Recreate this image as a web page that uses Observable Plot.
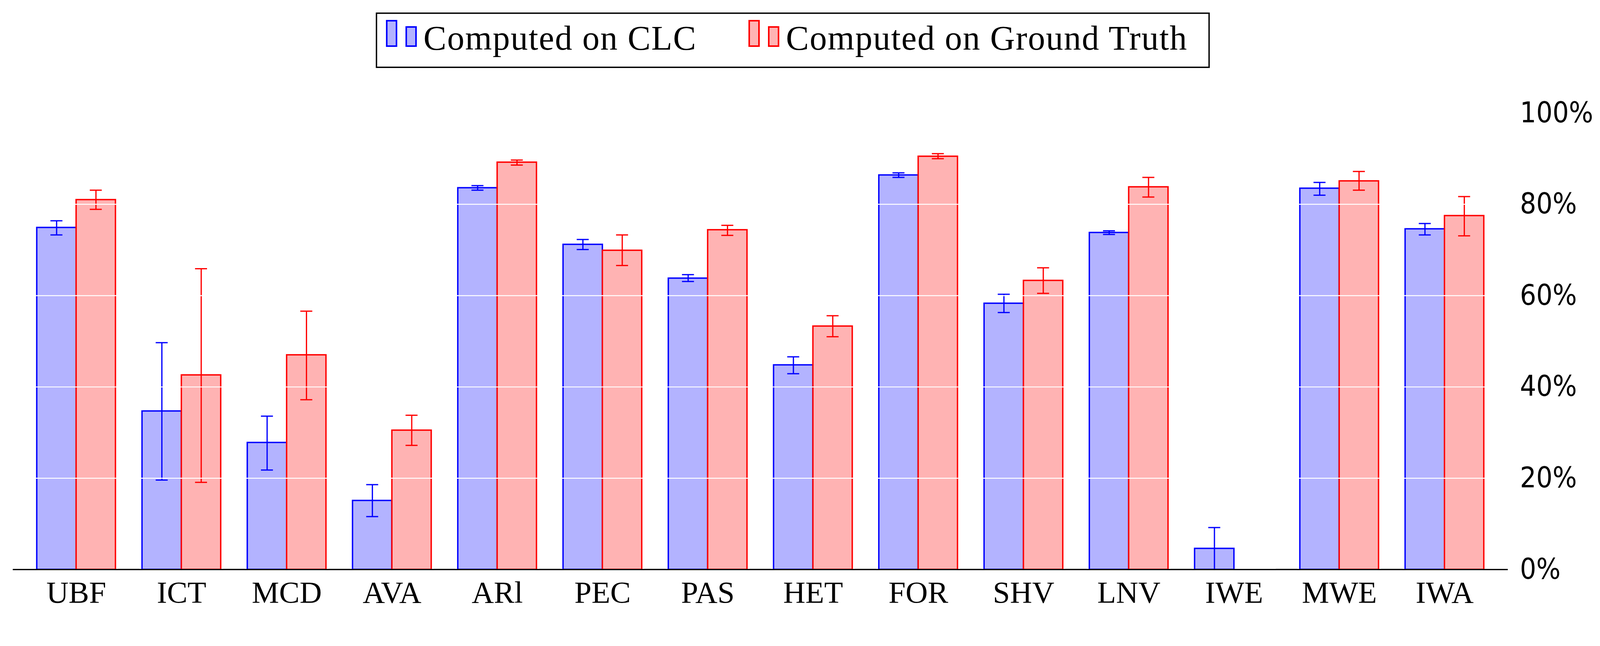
<!DOCTYPE html>
<html>
<head>
<meta charset="utf-8">
<script src="https://cdn.jsdelivr.net/npm/d3@7"></script>
<script src="https://cdn.jsdelivr.net/npm/@observablehq/plot@0.6"></script>
<style>
  html, body { margin: 0; padding: 0; background: #fff; }
  #legend svg, #chart svg { display: block; }
</style>
</head>
<body>
<div id="legend"></div>
<div id="chart"></div>
<script>
// ---- data ----
const categories = ["UBF", "ICT", "MCD", "AVA", "ARl", "PEC", "PAS", "HET", "FOR", "SHV", "LNV", "IWE", "MWE", "IWA"];
const seriesKeys = ["CLC", "GT"];
const seriesLabels = ["Computed on CLC", "Computed on Ground Truth"];
const seriesStroke = ["#0000ff", "#ff0000"];
const seriesFill = ["#b3b3ff", "#ffb3b3"];

const clcValue = [74.9, 34.7, 27.8, 15.1, 83.6, 71.2, 63.8, 44.8, 86.4, 58.3, 73.8, 4.6, 83.5, 74.6];
const clcLow   = [73.3, 19.6, 21.8, 11.6, 83.1, 70.1, 63.1, 42.9, 85.9, 56.3, 73.4, 0.0, 82.0, 73.3];
const clcHigh  = [76.4, 49.7, 33.6, 18.6, 84.1, 72.3, 64.6, 46.6, 86.9, 60.3, 74.2, 9.2, 84.8, 75.8];

const gtValue = [81.0, 42.6, 47.0, 30.5, 89.2, 69.9, 74.4, 53.3, 90.5, 63.3, 83.8, null, 85.1, 77.5];
const gtLow   = [78.9, 19.1, 37.2, 27.2, 88.6, 66.6, 73.2, 51.0, 90.0, 60.5, 81.6, null, 83.1, 73.1];
const gtHigh  = [83.1, 65.9, 56.6, 33.8, 89.7, 73.3, 75.4, 55.6, 91.1, 66.1, 85.9, null, 87.2, 81.7];

const yTicks = [0, 20, 40, 60, 80, 100];

// ---- table built from the arrays ----
const rows = [];
categories.forEach((c, i) => {
  rows.push({cat: c, series: "CLC", value: clcValue[i], lo: clcLow[i], hi: clcHigh[i]});
  rows.push({cat: c, series: "GT", value: gtValue[i], lo: gtLow[i], hi: gtHigh[i]});
});
const bars = rows.filter(d => d.value != null);
const errs = rows.filter(d => d.lo != null && d.hi != null);
const strokeOf = d => seriesStroke[seriesKeys.indexOf(d.series)];
const fillOf = d => seriesFill[seriesKeys.indexOf(d.series)];

const W = 4269;
const LEG_H = 200;
const H = 1653 - LEG_H;

// ---- legend (above the SVG) ----
const leg = d3.select("#legend").append("svg")
  .attr("width", W).attr("height", LEG_H);
leg.append("rect")
  .attr("x", 963.75).attr("y", 33.75)
  .attr("width", 2131.5).attr("height", 138.5)
  .attr("fill", "white").attr("stroke", "black").attr("stroke-width", 3.5);
const legX = [988, 1916];
seriesKeys.forEach((k, i) => {
  const g = leg.append("g");
  g.append("rect").attr("x", legX[i] + 2).attr("y", 53).attr("width", 25).attr("height", 65)
    .attr("fill", seriesFill[i]).attr("stroke", seriesStroke[i]).attr("stroke-width", 4);
  g.append("rect").attr("x", legX[i] + 52).attr("y", 69).attr("width", 25).attr("height", 49)
    .attr("fill", seriesFill[i]).attr("stroke", seriesStroke[i]).attr("stroke-width", 4);
  g.append("text").attr("x", legX[i] + 96).attr("y", 126.7)
    .attr("font-family", "'Liberation Serif', 'DejaVu Serif', serif")
    .attr("font-size", 88).attr("letter-spacing", 2).attr("fill", "black")
    .text(seriesLabels[i]);
});

// ---- chart ----
const chart = Plot.plot({
  width: W,
  height: H,
  marginTop: 92.5,
  marginBottom: 143,
  marginLeft: 34,
  marginRight: 246,
  fx: {domain: categories, paddingInner: 0.2523, paddingOuter: 0.228, round: false, label: null},
  x: {domain: seriesKeys, padding: 0, round: false, axis: null},
  y: {domain: [0, 100], label: null},
  marks: [
    Plot.barY(bars, {fx: "cat", x: "series", y1: 0, y2: "value", fill: fillOf, stroke: strokeOf, strokeWidth: 3.7}),
    Plot.ruleX(errs, {fx: "cat", x: "series", y1: "lo", y2: "hi", stroke: strokeOf, strokeWidth: 3.3}),
    Plot.tickY(errs, {fx: "cat", x: "series", y: "hi", stroke: strokeOf, strokeWidth: 3.3, insetLeft: 36.5, insetRight: 36.5}),
    Plot.tickY(errs, {fx: "cat", x: "series", y: "lo", stroke: strokeOf, strokeWidth: 3.3, insetLeft: 36.5, insetRight: 36.5}),
    Plot.ruleY(yTicks.filter(t => t > 0), {stroke: "white", strokeWidth: 2.6, insetLeft: -3, insetRight: -3}),
    Plot.ruleY([0], {stroke: "black", strokeWidth: 3.4, insetLeft: -64, insetRight: -64}),
    Plot.axisFx({anchor: "bottom", tickSize: 0, tickPadding: 30, fontSize: 82,
      fontFamily: "'Liberation Serif', 'DejaVu Serif', serif", label: null}),
    Plot.axisY({anchor: "right", ticks: yTicks, tickSize: 0, tickPadding: 96, tickFormat: d => d + "%",
      fontSize: 76, fontFamily: "'DejaVu Sans Condensed', 'DejaVu Sans', sans-serif", label: null})
  ]
});
d3.select(chart).style("background", "white").style("color", "black");
document.getElementById("chart").appendChild(chart);
</script>
</body>
</html>
